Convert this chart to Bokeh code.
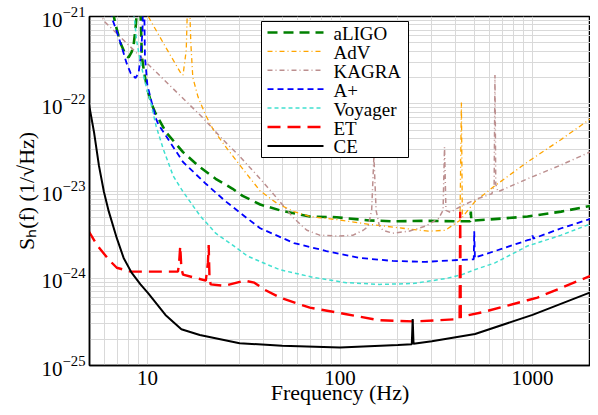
from bokeh.plotting import figure
from bokeh.models import FixedTicker, PrintfTickFormatter, BoxAnnotation, Label, Arrow
from bokeh.embed import file_html
from bokeh.resources import INLINE

# ---- data (frequency in Hz, strain ASD in 1/sqrt(Hz)) ----
aligo_f = [6.6, 6.85, 7.26, 7.71, 7.98, 8.27, 8.47, 8.67, 8.83, 9.0, 9.2, 9.35, 9.6, 10.0, 10.5, 11.0,
           12.5, 15.3, 18.7, 22.6, 27.7, 31.2, 38.5, 48.9, 69.7, 96, 142, 188, 278, 411, 475, 478, 481,
           942, 1409, 2032]
aligo_s = [1.15e-21, 7.85e-22, 4.9e-22, 3.6e-22, 3.4e-22, 3.9e-22, 4.65e-22, 7.3e-22, 1.2e-21, 5e-21,
           1.2e-21, 3.5e-22, 2.3e-22, 1.45e-22, 1.0e-22, 7.8e-23,
           4.7e-23, 2.79e-23, 1.88e-23, 1.38e-23, 1.06e-23, 8.8e-24, 7.0e-24, 6.0e-24, 5.1e-24, 5.0e-24,
           4.6e-24, 4.5e-24, 4.55e-24, 4.5e-24, 4.5e-24, 5.8e-24, 4.55e-24, 5.1e-24, 5.8e-24, 6.8e-24]

adv_f = [10.1, 10.4, 12.4, 14.8, 15.3, 15.9, 16.3, 16.6, 16.8, 17.2, 18.3, 20.0, 21.8, 23.7, 26.1, 31.9,
         38.5, 47.2, 57.7, 69.7, 96, 142, 212, 288, 353, 397, 420, 427, 432, 447, 503, 638, 942, 1409, 2032]
adv_s = [1.0e-21, 8.9e-22, 4.5e-22, 2.3e-22, 2.13e-22, 4.1e-22, 3e-21, 1.1e-21, 4.9e-22, 2.0e-22, 1.2e-22,
         7.5e-23, 5.2e-23, 4.0e-23, 3.0e-23, 1.69e-23, 1.0e-23, 7.2e-24, 5.8e-24, 5.1e-24, 4.7e-24,
         4.15e-24, 3.74e-24, 3.46e-24, 3.55e-24, 4.26e-24, 4.6e-24, 1.03e-22, 5.0e-24, 5.5e-24, 7.6e-24,
         1.15e-23, 2.15e-23, 3.9e-23, 6.9e-23]

kagra_f = [5.6, 5.94, 19.4, 24.6, 30.1, 38.5, 47.2, 57.7, 67.3, 78.4, 96, 117, 132, 140, 146, 150, 154,
           160, 167, 188, 228, 278, 325, 343, 349, 355, 374, 431, 521, 615, 632, 638, 644, 661, 942, 1409,
           2032]
kagra_s = [1.15e-21, 8.9e-22, 6.9e-23, 3.9e-23, 2.5e-23, 1.38e-23, 8.2e-24, 4.85e-24, 3.55e-24, 3.12e-24,
           3.04e-24, 3.12e-24, 3.55e-24, 3.9e-24, 6e-24, 2.5e-23, 6e-24, 4.0e-24, 3.55e-24, 3.28e-24,
           3.46e-24, 3.95e-24, 4.85e-24, 6e-24, 3.18e-23, 6e-24, 5.7e-24, 6.8e-24, 8.2e-24, 9.3e-24,
           1.2e-23, 2.13e-22, 1.2e-23, 9.8e-24, 1.38e-23, 1.99e-23, 2.86e-23]

aplus_f = [6.45, 6.53, 6.93, 7.26, 7.8, 8.18, 8.67, 8.99, 9.2, 9.43, 9.55, 9.7, 10.0, 10.3, 11.0, 11.4,
           15.3, 20.1, 25.5, 33.0, 38.5, 57.7, 85, 126, 188, 278, 411, 495, 498, 502, 516, 638, 942, 990,
           1000, 1010, 1409, 2032]
aplus_s = [1.16e-21, 9.7e-22, 6.7e-22, 4.9e-22, 2.9e-22, 2.24e-22, 1.97e-22, 2.24e-22, 3.3e-22, 6.9e-22,
           5e-21, 3.5e-22, 1.6e-22, 1.25e-22, 7.0e-23, 5.8e-23, 2.15e-23, 1.21e-23, 7.6e-24, 4.85e-24,
           3.74e-24, 2.53e-24, 2.05e-24, 1.71e-24, 1.58e-24, 1.54e-24, 1.62e-24, 1.65e-24, 3.46e-24,
           1.7e-24, 1.76e-24, 2.05e-24, 2.73e-24, 2.8e-24, 3.1e-24, 2.85e-24, 3.74e-24, 4.85e-24]

voy_f = [8.37, 8.58, 8.78, 9.2, 9.65, 10.4, 11.1, 12.1, 13.6, 15.3, 18.7, 22.6, 27.7, 33.0, 43.4, 48.9,
         73.1, 108, 159.5, 239, 353, 430, 500, 638, 942, 1409, 2032]
voy_s = [1.3e-21, 8.9e-22, 5.3e-22, 3.0e-22, 1.87e-22, 1.03e-22, 5.5e-23, 3.0e-23, 1.49e-23, 9.8e-24,
         5.25e-24, 3.28e-24, 2.4e-24, 1.8e-24, 1.39e-24, 1.25e-24, 1.02e-24, 8.9e-25, 8.5e-25, 8.7e-25,
         9.9e-25, 1.1e-24, 1.25e-24, 1.5e-24, 2.34e-24, 3.12e-24, 4.26e-24]

et_f = [4.92, 5.47, 6.3, 6.93, 8.18, 10.7, 14.4, 14.6, 14.8, 15.0, 15.3, 20.1, 20.6, 20.8, 21.0, 21.3,
        25.2, 31.9, 35.9, 40.5, 48.9, 69.7, 108, 159.5, 239, 325, 411, 418, 421, 424, 463, 547, 942,
        1061, 2009]
et_s = [3.55e-24, 2.4e-24, 1.63e-24, 1.32e-24, 1.19e-24, 1.19e-24, 1.19e-24, 1.5e-24, 2.34e-24, 1.3e-24,
        1.10e-24, 9.4e-25, 1.5e-24, 2.4e-24, 1.0e-24, 8.5e-25, 8.2e-25, 9.4e-25, 8.9e-25, 7.4e-25,
        6.0e-25, 4.6e-25, 3.87e-25, 3.3e-25, 3.2e-25, 3.3e-25, 3.4e-25, 3.4e-25, 5.8e-24, 3.6e-25,
        3.77e-25, 4.07e-25, 5.6e-25, 6.0e-25, 1.07e-24]

ce_f = [4.92, 5.28, 5.60, 5.94, 6.30, 6.93, 7.52, 8.27, 9.2, 10.1, 12.4, 15.0, 18.7, 30.1, 50, 100, 200,
        236, 238.5, 241, 300, 503, 1000, 2032]
ce_s = [1.11e-22, 4.7e-23, 1.94e-23, 9.8e-24, 5.8e-24, 2.88e-24, 1.71e-24, 1.16e-24, 8.5e-25, 6.7e-25,
        3.8e-25, 2.6e-25, 2.24e-25, 1.8e-25, 1.68e-25, 1.61e-25, 1.72e-25, 1.75e-25, 3.4e-25, 1.77e-25,
        1.9e-25, 2.3e-25, 3.8e-25, 7.0e-25]

names = ["aLIGO", "AdV", "KAGRA", "A+", "Voyager", "ET", "CE"]
series = [(aligo_f, aligo_s), (adv_f, adv_s), (kagra_f, kagra_s), (aplus_f, aplus_s),
          (voy_f, voy_s), (et_f, et_s), (ce_f, ce_s)]

x_major = [10, 100, 1000]
x_minor = [5, 6, 7, 8, 9, 20, 30, 40, 50, 60, 70, 80, 90, 200, 300, 400, 500, 600, 700, 800, 900, 2000]
y_major = [1e-25, 1e-24, 1e-23, 1e-22, 1e-21]
y_minor = [m * 10.0 ** e for e in range(-25, -21) for m in range(2, 10)]

# ---- styles ----
colors = ["green", "orange", "rosybrown", "blue", "turquoise", "red", "black"]
widths = [2.6, 1.3, 1.5, 1.8, 1.5, 2.4, 2.0]
dashes = ["10 6", "5 3 1 3", "5 3 1 3", "6 4", "4 3", "13 7", "solid"]

FONT = "Liberation Serif"

p = figure(width=590, height=407, x_axis_type="log", y_axis_type="log",
           x_range=(5, 2000), y_range=(1e-25, 1e-21),
           output_backend="svg", toolbar_location=None,
           min_border_left=89, min_border_right=0, min_border_top=16, min_border_bottom=42)

p.background_fill_color = "white"
p.outline_line_color = "black"
p.outline_line_width = 1.5

p.xaxis.ticker = FixedTicker(ticks=x_major, minor_ticks=x_minor)
p.yaxis.ticker = FixedTicker(ticks=y_major, minor_ticks=y_minor)
p.xaxis.formatter = PrintfTickFormatter(format="%d")

for g in (p.xgrid, p.ygrid):
    g.grid_line_color = "#d9d9d9"
    g.minor_grid_line_color = "#d9d9d9"
    g.grid_line_width = 1
    g.minor_grid_line_width = 1

for ax in (p.xaxis, p.yaxis):
    ax.axis_line_color = "black"
    ax.axis_line_width = 1.5
    ax.major_tick_line_color = None
    ax.minor_tick_line_color = None
    ax.major_tick_out = 0
    ax.minor_tick_out = 0
    ax.major_label_text_font = FONT
    ax.major_label_text_font_size = "21px"
    ax.major_label_text_line_height = 1.0
    ax.major_label_text_color = "black"
    ax.axis_label_text_font = FONT
    ax.axis_label_text_font_size = "22px"
    ax.axis_label_text_line_height = 1.0
    ax.axis_label_text_font_style = "normal"
    ax.axis_label_text_color = "black"

p.xaxis.axis_label = "Frequency (Hz)"
p.xaxis.major_label_standoff = 5
p.xaxis.axis_label_standoff = -8
p.yaxis.axis_label = "Sₕ(f) (1/√Hz)"
p.yaxis.major_label_standoff = 4
p.yaxis.axis_label_standoff = 0

for (fx, sy), c, w, d in zip(series, colors, widths, dashes):
    p.line(fx, sy, line_color=c, line_width=w, line_dash=d)

# ---- legend (screen units, measured from the frame's bottom-left corner) ----
FRAME_H = 407 - 16 - 42
leg_left, leg_right = 172, 319
leg_top = FRAME_H - 5
leg_bottom = leg_top - 136
p.add_layout(BoxAnnotation(left=leg_left, right=leg_right, top=leg_top, bottom=leg_bottom,
                           left_units="screen", right_units="screen",
                           top_units="screen", bottom_units="screen",
                           fill_color="white", fill_alpha=1.0,
                           line_color="black", line_width=1, line_alpha=1.0))
row_h = 18.9
for i, (name, c, w, d) in enumerate(zip(names, colors, widths, dashes)):
    yy = leg_top - 11 - i * row_h
    p.add_layout(Arrow(end=None, x_start=leg_left + 6, y_start=yy, x_end=leg_left + 62, y_end=yy,
                       start_units="screen", end_units="screen",
                       line_color=c, line_width=w, line_dash=d))
    p.add_layout(Label(x=leg_left + 72, y=yy - 1, x_units="screen", y_units="screen", text=name,
                       text_font=FONT, text_font_size="19px", text_color="black",
                       text_baseline="middle", text_align="left"))

open("out.html", "w").write(file_html(p, INLINE))
